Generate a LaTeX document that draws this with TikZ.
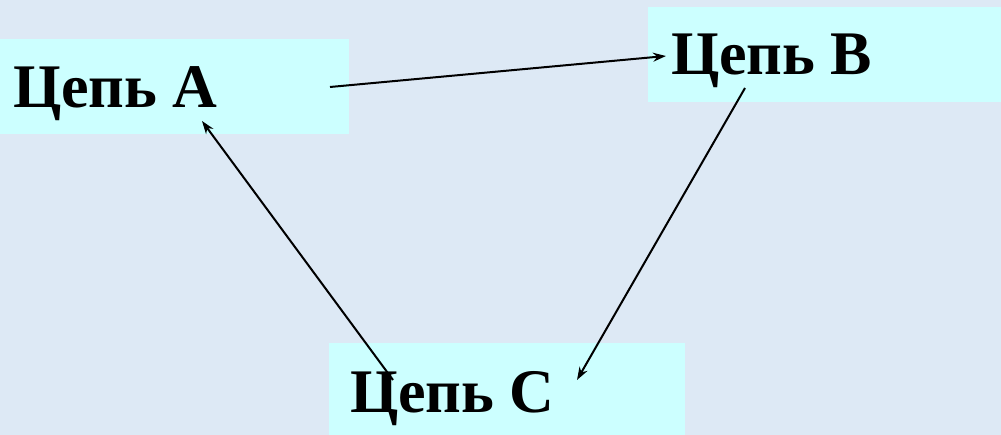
\documentclass[tikz,border=0pt]{standalone}
\usepackage{fontspec}
\setmainfont{Liberation Serif}
\usetikzlibrary{arrows.meta}
\definecolor{bgblue}{HTML}{DDE9F5}
\definecolor{boxcyan}{HTML}{CCFFFF}
\tikzset{
  chainbox/.style={fill=boxcyan, draw=none, rectangle},
  chainlabel/.style={anchor=base west, inner sep=0pt, font=\fontsize{62}{74}\selectfont\bfseries, text=black},
  link/.style={line width=2pt, -{Stealth[length=13pt,width=9pt]}}
}
\begin{document}
\begin{tikzpicture}[x=1pt,y=-1pt]
  % canvas
  \fill[bgblue] (0,0) rectangle (1001,435);
  \useasboundingbox (0,0) rectangle (1001,435);

  % boxes
  \fill[chainbox] (0,39) rectangle (349,134);
  \fill[chainbox] (648,7) rectangle (1001,102);
  \fill[chainbox] (329,343) rectangle (685,435);

  % labels
  \node[chainlabel] (la) at (13,108) {Цепь A};
  \node[chainlabel] (lb) at (671,75) {Цепь B};
  \node[chainlabel] (lc) at (350,412) {Цепь C};

  % connector ends
  \coordinate (a1) at (330,87);
  \coordinate (b1) at (666,56);
  \coordinate (b2) at (745,88);
  \coordinate (c1) at (577,380);
  \coordinate (c2) at (393,380);
  \coordinate (a2) at (202,121);

  \draw[link] (a1) -- (b1);
  \draw[link] (b2) -- (c1);
  \draw[link] (c2) -- (a2);
\end{tikzpicture}
\end{document}
